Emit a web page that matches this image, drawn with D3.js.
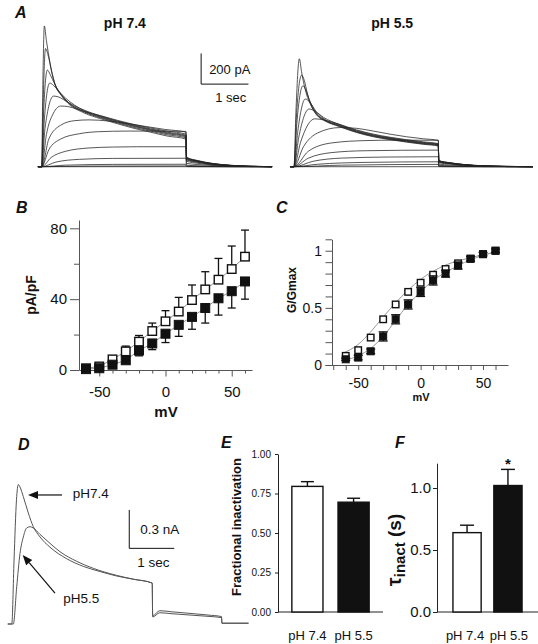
<!DOCTYPE html>
<html><head><meta charset="utf-8">
<script src="https://cdn.jsdelivr.net/npm/d3@7"></script>
<style>
body{margin:0;background:#fff;}
svg{display:block;font-family:Arial,"Liberation Sans",Helvetica,sans-serif;}
</style></head><body>
<svg id="fig" width="538" height="644"></svg>
<script>
// ---------------- DATA ----------------
// Panel A: current traces, steps from -60 to +60 mV (t in s, I in pA)
const voltages = [-60,-50,-40,-30,-20,-10,0,10,20,30,40,50,60];
const tracesPH74 = [
 [[-0.08,0],[0,0],[3.05,0],[3.06,0],[4.87,0]],
 [[-0.08,0],[0,0],[1.0,4],[3.05,5],[3.06,1],[3.3,0],[4.87,0]],
 [[-0.08,0],[0,0],[0.5,10],[1.5,15],[3.05,16],[3.06,4],[3.3,2],[3.6,1],[4.0,0],[4.87,0]],
 [[-0.08,0],[0,0],[0.3,30],[0.8,48],[1.5,54],[3.05,55],[3.06,10],[3.3,6],[3.6,3],[4.0,1],[4.4,0],[4.87,0]],
 [[-0.08,0],[0,0],[0.2,60],[0.5,100],[1.0,122],[1.5,128],[2.0,130],[3.05,130],[3.06,22],[3.3,14],[3.6,8],[4.0,3],[4.4,1],[4.87,0]],
 [[-0.08,0],[0,0],[0.15,110],[0.4,180],[0.8,215],[1.2,228],[1.8,232],[2.4,232],[3.05,230],[3.06,36],[3.3,22],[3.6,12],[4.0,5],[4.4,1],[4.87,0]],
 [[-0.08,0],[0,0],[0.15,180],[0.4,270],[0.7,300],[1.0,305],[1.4,298],[1.8,282],[2.2,262],[2.6,243],[3.05,225],[3.06,44],[3.3,28],[3.6,15],[4.0,6],[4.4,2],[4.87,0]],
 [[-0.08,0],[0,0],[0.1,210],[0.25,350],[0.4,395],[0.55,392],[0.75,375],[0.9,360],[1.25,332],[1.6,302],[1.95,275],[2.3,252],[2.65,232],[3.05,212],[3.06,48],[3.3,30],[3.6,17],[4.0,7],[4.4,2],[4.87,0]],
 [[-0.08,0],[0,0],[0.07,250],[0.25,460],[0.35,455],[0.5,430],[0.7,395],[0.9,368],[1.25,330],[1.6,298],[1.95,270],[2.3,246],[2.65,225],[3.05,205],[3.06,52],[3.3,33],[3.6,18],[4.0,7],[4.4,2],[4.87,0]],
 [[-0.08,0],[0,0],[0.05,280],[0.17,545],[0.25,530],[0.35,495],[0.5,448],[0.7,400],[0.9,365],[1.25,326],[1.6,295],[1.95,266],[2.3,242],[2.65,220],[3.05,200],[3.06,56],[3.3,35],[3.6,19],[4.0,8],[4.4,2],[4.87,0]],
 [[-0.08,0],[0,0],[0.04,350],[0.12,630],[0.18,600],[0.28,535],[0.42,468],[0.56,420],[0.9,360],[1.25,322],[1.6,290],[1.95,262],[2.3,238],[2.65,215],[3.05,195],[3.06,58],[3.3,37],[3.6,20],[4.0,8],[4.4,3],[4.87,0]],
 [[-0.08,0],[0,0],[0.03,400],[0.08,770],[0.14,720],[0.21,618],[0.28,540],[0.42,465],[0.56,418],[0.9,356],[1.25,318],[1.6,286],[1.95,256],[2.3,232],[2.65,208],[3.05,188],[3.06,60],[3.3,38],[3.6,21],[4.0,9],[4.4,3],[4.87,0]],
 [[-0.08,0],[0,0],[0.02,450],[0.056,917],[0.1,820],[0.14,742],[0.21,624],[0.28,538],[0.42,462],[0.56,412],[0.9,350],[1.25,312],[1.6,280],[1.95,250],[2.3,225],[2.65,200],[3.05,180],[3.06,62],[3.3,40],[3.6,22],[4.0,9],[4.4,3],[4.87,0]]
];
const tracesPH55 = [
 [[-0.08,0],[0,0],[3.05,0],[3.06,0],[5.05,0]],
 [[-0.08,0],[0,0],[1.0,10],[3.05,15],[3.06,1],[3.3,0],[5.05,0]],
 [[-0.08,0],[0,0],[0.5,16],[1.5,28],[3.05,32],[3.06,4],[3.3,2],[3.6,1],[4.0,0],[5.05,0]],
 [[-0.08,0],[0,0],[0.4,35],[1.0,56],[2.0,63],[3.05,65],[3.06,9],[3.3,6],[3.6,3],[4.0,1],[4.5,0],[5.05,0]],
 [[-0.08,0],[0,0],[0.3,55],[0.8,92],[1.5,104],[3.05,108],[3.06,17],[3.3,11],[3.6,6],[4.0,2],[4.5,1],[5.05,0]],
 [[-0.08,0],[0,0],[0.3,100],[0.8,155],[1.5,170],[2.2,173],[3.05,172],[3.06,26],[3.3,17],[3.6,9],[4.0,4],[4.5,1],[5.05,0]],
 [[-0.08,0],[0,0],[0.2,130],[0.5,220],[0.97,255],[1.32,250],[1.68,232],[2.03,212],[2.38,195],[2.73,182],[3.05,172],[3.06,31],[3.3,20],[3.6,11],[4.0,4],[4.5,1],[5.05,0]],
 [[-0.08,0],[0,0],[0.14,160],[0.44,312],[0.62,305],[0.97,275],[1.32,240],[1.68,212],[2.03,192],[2.38,176],[2.73,162],[3.05,150],[3.06,33],[3.3,21],[3.6,11],[4.0,5],[4.5,1],[5.05,0]],
 [[-0.08,0],[0,0],[0.1,190],[0.32,376],[0.45,360],[0.62,322],[0.97,274],[1.32,236],[1.68,208],[2.03,188],[2.38,172],[2.73,158],[3.05,147],[3.06,35],[3.3,22],[3.6,12],[4.0,5],[4.5,1],[5.05,0]],
 [[-0.08,0],[0,0],[0.08,230],[0.24,441],[0.32,425],[0.48,355],[0.62,315],[0.97,270],[1.32,232],[1.68,204],[2.03,185],[2.38,169],[2.73,155],[3.05,144],[3.06,37],[3.3,24],[3.6,13],[4.0,5],[4.5,2],[5.05,0]],
 [[-0.08,0],[0,0],[0.06,280],[0.19,527],[0.25,500],[0.32,440],[0.48,345],[0.62,310],[0.97,266],[1.32,229],[1.68,201],[2.03,182],[2.38,166],[2.73,152],[3.05,141],[3.06,38],[3.3,24],[3.6,13],[4.0,5],[4.5,2],[5.05,0]],
 [[-0.08,0],[0,0],[0.05,320],[0.16,596],[0.22,560],[0.28,480],[0.34,418],[0.48,340],[0.62,307],[0.97,263],[1.32,226],[1.68,198],[2.03,179],[2.38,163],[2.73,149],[3.05,138],[3.06,39],[3.3,25],[3.6,14],[4.0,6],[4.5,2],[5.05,0]],
 [[-0.08,0],[0,0],[0.04,350],[0.113,703],[0.16,618],[0.2,553],[0.27,467],[0.34,412],[0.48,336],[0.62,304],[0.97,260],[1.32,223],[1.68,195],[2.03,176],[2.38,160],[2.73,146],[3.05,135],[3.06,40],[3.3,26],[3.6,14],[4.0,6],[4.5,2],[5.05,0]]
];
const titlesA = ["pH 7.4", "pH 5.5"];
const scaleBarA = {pA: 200, sec: 1, labelI: "200 pA", labelT: "1 sec"};

// Panel B: current density (pA/pF) vs voltage
const mV = [-60,-50,-40,-30,-20,-10,0,10,20,30,40,50,60];
const densityPH74 = [1,2,6,10.5,16,22,27.5,33,39.5,45.5,51,57,64];
const densityPH74Err = [0,0.5,1,3,3.5,4.5,6,8,8.5,10,12,13,15];
const densityPH55 = [0.5,1,3,5.5,11,15,20.5,25.5,30,35,40.5,44.5,50];
const densityPH55Err = [0,0.5,1,1.5,3,3.5,5,6.5,7,8.5,9.5,9.5,10];
const ticksB_y = [0,40,80], minorB_y = [20,60];
const ticksB_x = [-50,0,50], minorB_x = [-60,-40,-30,-20,-10,10,20,30,40,60];

// Panel C: normalised conductance
const gPH74 = [0.08,0.13,0.24,0.40,0.53,0.64,0.72,0.79,0.84,0.89,0.93,0.97,1.0];
const gPH74Err = [0.01,0.01,0.01,0.012,0.012,0.012,0.012,0.012,0.012,0.012,0.01,0.01,0.01];
const gPH55 = [0.05,0.065,0.12,0.25,0.40,0.53,0.64,0.74,0.80,0.87,0.93,0.97,1.0];
const gPH55Err = [0.01,0.02,0.02,0.04,0.04,0.04,0.04,0.04,0.03,0.03,0.02,0.015,0.015];
const fitPH74 = [[-62,0.105],[-50,0.18],[-40,0.29],[-30,0.42],[-20,0.545],[-10,0.655],[0,0.75],[10,0.82],[20,0.875],[30,0.91],[40,0.94],[50,0.965],[60,0.985]];
const fitPH55 = [[-62,0.04],[-50,0.08],[-40,0.146],[-30,0.25],[-20,0.39],[-10,0.53],[0,0.64],[10,0.74],[20,0.81],[30,0.87],[40,0.92],[50,0.96],[60,0.99]];
const ticksC_x = [-70,-60,-50,-40,-30,-20,-10,0,10,20,30,40,50,60];
const labelsC_x = [-50,0,50];
const ticksC_y = [0,0.1,0.2,0.3,0.4,0.5,0.6,0.7,0.8,0.9,1.0,1.1];
const labelsC_y = [0,0.5,1];

// Panel D: representative traces (t in s, I in nA)
const traceD74 = [[-0.05,0],[0.04,0],[0.09,0.5],[0.144,0.97],[0.185,1.09],[0.222,1.07],[0.296,0.995],[0.407,0.867],[0.518,0.76],[0.667,0.68],[0.889,0.60],[1.26,0.51],[1.63,0.45],[2.0,0.41],[2.37,0.375],[2.74,0.35],[3.16,0.32],[3.17,0.065],[3.33,0.104],[3.6,0.095],[4.0,0.083],[4.4,0.07],[4.70,0.058],[4.71,0.006],[5.3,0.006]];
const traceD55 = [[-0.05,0],[0.074,0],[0.149,0.29],[0.222,0.55],[0.296,0.68],[0.37,0.75],[0.444,0.76],[0.518,0.75],[0.667,0.70],[0.889,0.63],[1.11,0.565],[1.48,0.49],[1.85,0.435],[2.37,0.38],[2.74,0.35],[3.16,0.32],[3.17,0.055],[3.33,0.088],[3.6,0.08],[4.0,0.07],[4.4,0.06],[4.70,0.05],[4.71,0.006],[5.3,0.006]];
const labelsD = ["pH7.4","pH5.5"];
const scaleBarD = {nA: 0.3, sec: 1, labelI: "0.3 nA", labelT: "1 sec"};

// Panel E / F: bar charts
const groups = ["pH 7.4","pH 5.5"];
const fracInact = [0.795,0.695];
const fracInactErr = [0.03,0.025];
const ticksE = [0,0.25,0.5,0.75,1.0];
const tauInact = [0.64,1.02];
const tauInactErr = [0.06,0.13];
const ticksF = [0,0.5,1.0];

// ---------------- DRAWING ----------------
const svg = d3.select("#fig");
const INK = "#111";

function label(x,y,s,opt={}){
  const t = svg.append("text").attr("x",x).attr("y",y).text(s)
    .attr("font-size",opt.size||14).attr("fill",opt.fill||INK)
    .attr("text-anchor",opt.anchor||"start");
  if(opt.bold) t.attr("font-weight","bold");
  if(opt.italic) t.attr("font-style","italic");
  return t;
}
function vlabel(x,y,s,opt={}){
  const t = svg.append("text").attr("transform",`translate(${x},${y}) rotate(-90)`)
    .attr("text-anchor","middle").attr("font-size",opt.size||14).attr("fill",INK).text(s);
  if(opt.bold) t.attr("font-weight","bold");
  return t;
}
function styleAxis(g,color,size,noDomain){
  g.selectAll(".tick line").attr("stroke",color).attr("stroke-width",1);
  g.select(".domain").attr("stroke",noDomain?"none":color).attr("stroke-width",1);
  g.selectAll("text").attr("font-size",size).attr("fill",INK).attr("font-family",null);
  return g;
}
const fmtPlain = d => String(d);

// Panel letters
label(15,18,"A",{size:16,bold:true,italic:true});
label(16,213,"B",{size:16,bold:true,italic:true});
label(276,213,"C",{size:16,bold:true,italic:true});
label(18,450,"D",{size:16,bold:true,italic:true});
label(221,448,"E",{size:16,bold:true,italic:true});
label(395,448,"F",{size:16,bold:true,italic:true});

// ---- Panel A ----
const xA74 = d3.scaleLinear().domain([0,3.05]).range([41.7,186]);
const xA55 = d3.scaleLinear().domain([0,3.05]).range([294,438.3]);
const yA = d3.scaleLinear().domain([0,200]).range([166.7,136]);
const lA74 = d3.line().x(d=>xA74(d[0])).y(d=>yA(d[1])).curve(d3.curveMonotoneX);
const lA55 = d3.line().x(d=>xA55(d[0])).y(d=>yA(d[1])).curve(d3.curveMonotoneX);
const gA = svg.append("g").attr("fill","none").attr("stroke","#222").attr("stroke-width",0.9).attr("stroke-opacity",0.85);
gA.selectAll("path.t74").data(tracesPH74).join("path").attr("class","t74").attr("d",lA74);
gA.selectAll("path.t55").data(tracesPH55).join("path").attr("class","t55").attr("d",lA55);
label((xA74(0)+xA74(3.05))/2+11,28,titlesA[0],{size:14,bold:true,anchor:"middle"});
label((xA55(0)+xA55(3.05))/2+26,28,titlesA[1],{size:14,bold:true,anchor:"middle"});
// scale bar A
const sbT0 = 3.37, sbI0 = 538;
svg.append("path").attr("fill","none").attr("stroke",INK).attr("stroke-width",1)
  .attr("d",`M${xA74(sbT0)},${yA(sbI0+scaleBarA.pA)}V${yA(sbI0)}H${xA74(sbT0+scaleBarA.sec)}`);
label(xA74(sbT0)+8,73.5,scaleBarA.labelI,{size:13});
label(xA74(sbT0)+14,102,scaleBarA.labelT,{size:13});

// ---- Panel B ----
const xB = d3.scaleLinear().domain([-65.3,65.3]).range([79,252]);
const yB = d3.scaleLinear().domain([0,84.7]).range([370,220]);
styleAxis(svg.append("g").attr("transform","translate(79,0)")
  .call(d3.axisLeft(yB).tickValues(ticksB_y).tickSize(9).tickPadding(3).tickSizeOuter(0).tickFormat(fmtPlain)),"#555",15);
styleAxis(svg.append("g").attr("transform","translate(79,0)")
  .call(d3.axisLeft(yB).tickValues(minorB_y).tickSize(5).tickSizeOuter(0).tickFormat("")),"#555",15,true);
styleAxis(svg.append("g").attr("transform","translate(0,370)")
  .call(d3.axisBottom(xB).tickValues(ticksB_x).tickSize(6.5).tickPadding(10).tickSizeOuter(0).tickFormat(fmtPlain)),"#555",15);
styleAxis(svg.append("g").attr("transform","translate(0,370)")
  .call(d3.axisBottom(xB).tickValues(minorB_x).tickSize(3.5).tickSizeOuter(0).tickFormat("")),"#555",15,true);
vlabel(36,295,"pA/pF",{size:14,bold:true});
label(166,417,"mV",{size:15,bold:true,anchor:"middle"});

function scatter(xs,sc,vals,errs,dir,lineColor,capW,g){
  const pts = xs.map((x,i)=>[x,vals[i],errs[i]]);
  if(lineColor) g.append("path").attr("fill","none").attr("stroke",lineColor).attr("stroke-width",0.8)
    .attr("d",d3.line().x(d=>sc.x(d[0])).y(d=>sc.y(d[1]))(pts));
  const eb = g.append("g").attr("stroke",INK).attr("stroke-width",1.3);
  pts.filter(d=>d[2]>0).forEach(d=>{
    const top = dir>=0 ? d[1]+d[2] : d[1];
    const bot = dir<=0 ? d[1]-d[2] : d[1];
    const cx = sc.x(d[0]);
    eb.append("line").attr("x1",cx).attr("x2",cx).attr("y1",sc.y(top)).attr("y2",sc.y(bot));
    if(dir>=0) eb.append("line").attr("x1",cx-capW/2).attr("x2",cx+capW/2).attr("y1",sc.y(top)).attr("y2",sc.y(top));
    if(dir<=0) eb.append("line").attr("x1",cx-capW/2).attr("x2",cx+capW/2).attr("y1",sc.y(bot)).attr("y2",sc.y(bot));
  });
  return pts;
}
function squares(pts,sc,size,open,g){
  g.selectAll(null).data(pts).join("rect")
    .attr("x",d=>sc.x(d[0])-size/2).attr("y",d=>sc.y(d[1])-size/2)
    .attr("width",size).attr("height",size)
    .attr("fill",open?"#fff":INK).attr("stroke",INK).attr("stroke-width",open?1.4:1);
}
const gB = svg.append("g");
const scB = {x:xB,y:yB};
const pB74 = scatter(mV,scB,densityPH74,densityPH74Err,1,"#777",8,gB);
const pB55 = scatter(mV,scB,densityPH55,densityPH55Err,-1,"#777",8,gB);
squares(pB74,scB,8.5,true,gB);
squares(pB55,scB,9,false,gB);

// ---- Panel C ----
const xC = d3.scaleLinear().domain([-76.6,70]).range([325,508]);
const yC = d3.scaleLinear().domain([0,1.1]).range([365,239.3]);
styleAxis(svg.append("g").attr("transform","translate(332,0)")
  .call(d3.axisLeft(yC).tickValues(ticksC_y).tickSize(6.5).tickPadding(3.5).tickSizeOuter(0)
  .tickFormat(d=>labelsC_y.some(v=>Math.abs(v-d)<1e-9)?fmtPlain(+d.toFixed(1)):"")),"#555",14);
styleAxis(svg.append("g").attr("transform","translate(0,365)")
  .call(d3.axisBottom(xC).tickValues(ticksC_x).tickSize(5).tickPadding(8).tickSizeOuter(0)
  .tickFormat(d=>labelsC_x.includes(d)?fmtPlain(d):"")),"#555",14);
vlabel(296,290,"G/Gmax",{size:12,bold:true});
label(421,401,"mV",{size:11,bold:true,anchor:"middle"});
const gC = svg.append("g");
const fitLine = d3.line().x(d=>xC(d[0])).y(d=>yC(d[1])).curve(d3.curveMonotoneX);
gC.append("path").attr("d",fitLine(fitPH74)).attr("fill","none").attr("stroke","#999").attr("stroke-width",1);
gC.append("path").attr("d",fitLine(fitPH55)).attr("fill","none").attr("stroke","#999").attr("stroke-width",1);
const scC = {x:xC,y:yC};
const pC74 = scatter(mV,scC,gPH74,gPH74Err,0,null,7,gC);
squares(pC74,scC,6.5,true,gC);
const pC55 = scatter(mV,scC,gPH55,gPH55Err,0,null,9,gC);
squares(pC55,scC,7,false,gC);

// ---- Panel D ----
const xD = d3.scaleLinear().domain([0,1]).range([10,55]);
const yD = d3.scaleLinear().domain([0,1]).range([624,496]);
const lD = d3.line().x(d=>xD(d[0])).y(d=>yD(d[1])).curve(d3.curveMonotoneX);
const gD = svg.append("g").attr("fill","none").attr("stroke","#555").attr("stroke-width",1);
gD.append("path").attr("d",lD(traceD74));
gD.append("path").attr("d",lD(traceD55));
const sbDt = 2.65, sbDi = 0.591;
svg.append("path").attr("fill","none").attr("stroke",INK).attr("stroke-width",1)
  .attr("d",`M${xD(sbDt)},${yD(sbDi+scaleBarD.nA)}V${yD(sbDi)}H${xD(sbDt+scaleBarD.sec)}`);
label(xD(sbDt)+11,534,scaleBarD.labelI,{size:13.5});
label(xD(sbDt)+8,567,scaleBarD.labelT,{size:13.5});
function arrow(t0,i0,t1,i1){
  const x0=xD(t0),y0=yD(i0),x1=xD(t1),y1=yD(i1);
  const a=Math.atan2(y1-y0,x1-x0), L=10, w=4;
  const bx=x1-L*Math.cos(a), by=y1-L*Math.sin(a);
  svg.append("line").attr("x1",x0).attr("y1",y0).attr("x2",bx).attr("y2",by).attr("stroke",INK).attr("stroke-width",1.2);
  svg.append("path").attr("fill",INK)
    .attr("d",`M${x1},${y1}L${bx+w*Math.sin(a)},${by-w*Math.cos(a)}L${bx-w*Math.sin(a)},${by+w*Math.cos(a)}Z`);
}
arrow(1.156,1.008,0.40,1.008);
arrow(1.0,0.242,0.282,0.539);
label(xD(1.393),498,labelsD[0],{size:13.5});
label(xD(1.184),603,labelsD[1],{size:13.5});

// ---- Panel E ----
const xE = d3.scaleBand().domain(groups).range([278,383]).paddingInner(0.326).paddingOuter(0.3);
const yE = d3.scaleLinear().domain([0,1]).range([612,454]);
styleAxis(svg.append("g").attr("transform","translate(278,0)")
  .call(d3.axisLeft(yE).tickValues(ticksE).tickSize(3).tickPadding(4).tickSizeOuter(0).tickFormat(d3.format(".2f"))),"#222",10);
svg.append("line").attr("x1",278).attr("x2",383).attr("y1",612).attr("y2",612).attr("stroke","#222");
vlabel(241,527,"Fractional inactivation",{size:13,bold:true});
function bars(xs,ys,vals,errs,capW){
  const g = svg.append("g");
  groups.forEach((k,i)=>{
    const cx = xs(k)+xs.bandwidth()/2;
    g.append("line").attr("x1",cx).attr("x2",cx).attr("y1",ys(vals[i])).attr("y2",ys(vals[i]+errs[i])).attr("stroke",INK).attr("stroke-width",1.4);
    g.append("line").attr("x1",cx-capW/2).attr("x2",cx+capW/2).attr("y1",ys(vals[i]+errs[i])).attr("y2",ys(vals[i]+errs[i])).attr("stroke",INK).attr("stroke-width",1.4);
    g.append("rect").attr("x",xs(k)).attr("y",ys(vals[i])).attr("width",xs.bandwidth()).attr("height",ys(0)-ys(vals[i]))
      .attr("fill",i===0?"#fff":INK).attr("stroke",INK).attr("stroke-width",1.4);
  });
}
bars(xE,yE,fracInact,fracInactErr,13);
groups.forEach(k=>label(xE(k)+xE.bandwidth()/2,640,k,{size:13,anchor:"middle"}));

// ---- Panel F ----
const xF = d3.scaleBand().domain(groups).range([437,538]).paddingInner(0.31).paddingOuter(0.39);
const yF = d3.scaleLinear().domain([0,1.2]).range([612,463.2]);
styleAxis(svg.append("g").attr("transform","translate(437,0)")
  .call(d3.axisLeft(yF).tickValues(ticksF).tickSize(4).tickPadding(2).tickSizeOuter(0).tickFormat(d3.format(".1f"))),"#222",15);
svg.append("line").attr("x1",437).attr("x2",538).attr("y1",612).attr("y2",612).attr("stroke","#222");
bars(xF,yF,tauInact,tauInactErr,14);
groups.forEach((k,i)=>label(xF(k)+xF.bandwidth()/2+(i===0?-2:1),640,k,{size:13,anchor:"middle"}));
label(xF(groups[1])+xF.bandwidth()/2,469,"*",{size:15,bold:true,anchor:"middle"});
const tl = svg.append("text").attr("transform","translate(401,550) rotate(-90)").attr("text-anchor","middle")
  .attr("font-weight","bold").attr("fill",INK);
tl.append("tspan").attr("font-size",20).text("τ");
tl.append("tspan").attr("font-size",15).attr("dy",4).text("inact");
tl.append("tspan").attr("font-size",19).attr("dy",-4).text(" (s)");
</script>
</body></html>
